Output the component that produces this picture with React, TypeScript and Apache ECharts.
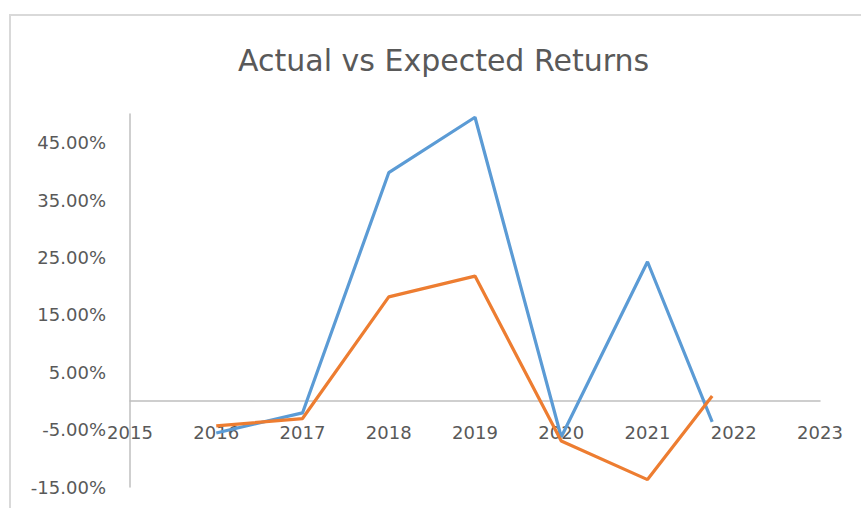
import React, { useEffect, useRef } from "react";
import * as echarts from "echarts";

const titleText = "Actual vs Expected Returns";
const years = [2016, 2017, 2018, 2019, 2020, 2021, 2021.75];
const actualReturns = [-0.0558, -0.0209, 0.3977, 0.4943, -0.0628, 0.2425, -0.0366];
const expectedReturns = [-0.0436, -0.0307, 0.1814, 0.2175, -0.0698, -0.1371, 0.0087];
const xMin = 2015;
const xMax = 2023;
const yMin = -0.15;
const yMax = 0.5;
const yStep = 0.1;

const FONT = "DejaVu Sans";

export default function App() {
  const ref = useRef<HTMLDivElement>(null);
  useEffect(() => {
    if (!ref.current) return;
    const chart = echarts.init(ref.current, null, { renderer: "svg" });
    chart.setOption({
      animation: false,
      backgroundColor: "#ffffff",
      title: {
        text: titleText,
        left: 233,
        top: 40,
        textStyle: { fontFamily: FONT, fontSize: 30, fontWeight: "normal", color: "#595959" },
      },
      graphic: [
        {
          type: "rect",
          shape: { x: 10, y: 15, width: 900, height: 600 },
          style: { fill: "none", stroke: "#d9d9d9", lineWidth: 2 },
          silent: true,
        },
      ],
      grid: { left: 130, right: 41, top: 114, bottom: 21, containLabel: false, outerBoundsMode: "none" },
      xAxis: {
        type: "value",
        min: xMin,
        max: xMax,
        interval: 1,
        splitLine: { show: false },
        axisTick: { show: false },
        axisLine: { show: true, onZero: true, lineStyle: { color: "#bfbfbf", width: 1.5 } },
        axisLabel: {
          margin: -64,
          fontFamily: FONT,
          fontSize: 18,
          color: "#595959",
          formatter: (v: number) => String(v),
        },
      },
      yAxis: {
        type: "value",
        min: yMin,
        max: yMax,
        interval: yStep,
        splitLine: { show: false },
        axisTick: { show: false },
        axisLine: { show: true, lineStyle: { color: "#bfbfbf", width: 1.5 } },
        axisLabel: {
          showMaxLabel: false,
          margin: 24,
          fontFamily: FONT,
          fontSize: 18,
          color: "#595959",
          formatter: (v: number) => (v * 100).toFixed(2) + "%",
        },
      },
      series: [
        {
          name: "Actual",
          type: "line",
          data: years.map((y, i) => [y, actualReturns[i]]),
          showSymbol: false,
          lineStyle: { color: "#5B9BD5", width: 3.2 },
          itemStyle: { color: "#5B9BD5" },
        },
        {
          name: "Expected",
          type: "line",
          data: years.map((y, i) => [y, expectedReturns[i]]),
          showSymbol: false,
          lineStyle: { color: "#ED7D31", width: 3.2 },
          itemStyle: { color: "#ED7D31" },
        },
      ],
    });
    return () => chart.dispose();
  }, []);
  return (
    <div
      ref={ref}
      style={{ position: "fixed", left: 0, top: 0, width: 861, height: 508 }}
    />
  );
}
